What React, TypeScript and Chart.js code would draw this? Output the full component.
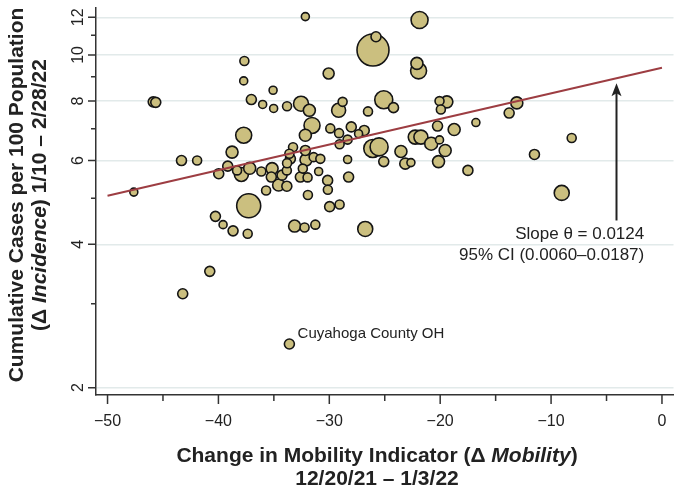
import React, { useEffect, useRef } from 'react';
import { Chart, registerables } from 'chart.js';

Chart.register(...registerables);

// ---- Data ----
const mobility = [
  -32.16, -26.06, -25.79, -37.66, -37.72, -30.06, -35.07, -45.88, -45.65, -37.03,
  -36.01, -35.02, -33.81, -32.55, -31.80, -29.16, -28.80, -26.51, -25.09, -24.21,
  -31.56, -32.16, -29.91, -29.12, -28.02, -26.85, -27.36, -28.35, -29.07, -37.72,
  -26.08, -25.51, -25.09, -38.77, -43.33, -41.92, -33.27, -33.60, -33.51, -32.16,
  -32.10, -31.41, -30.81, -28.35, -39.16, -39.97, -37.93, -37.18, -38.32, -36.13,
  -35.16, -35.23, -34.26, -33.83, -33.81, -32.61, -31.96, -32.39, -30.96, -30.15,
  -30.13, -28.26, -34.57, -33.83, -35.70, -31.93, -47.63, -37.27, -29.97, -29.07,
  -40.27, -39.58, -38.68, -37.36, -33.13, -32.23, -31.26, -26.76, -40.78, -43.22,
  -33.60, -21.86, -22.10, -21.95, -20.06, -19.40, -19.94, -13.09, -13.78, -16.78,
  -20.24, -18.74, -22.25, -21.74, -20.81, -20.06, -19.55, -20.15, -23.54, -23.15,
  -22.64, -17.50, -11.50, -8.14, -9.04,
];
const incidence = [
  12.04, 10.24, 10.92, 9.71, 8.82, 9.14, 8.43, 7.97, 7.95, 8.06,
  7.87, 7.72, 7.80, 7.90, 7.65, 7.65, 7.97, 7.61, 8.05, 7.75,
  7.11, 6.78, 7.01, 6.85, 7.06, 6.94, 6.83, 6.64, 6.49, 6.78,
  6.36, 6.41, 5.97, 6.25, 6.00, 6.00, 6.40, 6.20, 6.05, 6.30,
  6.02, 6.10, 6.05, 6.03, 5.84, 5.63, 5.61, 5.78, 5.72, 5.69,
  5.77, 5.54, 5.59, 5.72, 5.92, 5.54, 5.53, 5.77, 5.69, 5.45,
  5.21, 5.54, 5.33, 5.30, 5.19, 5.08, 5.15, 4.82, 4.80, 4.85,
  4.58, 4.40, 4.27, 4.21, 4.37, 4.34, 4.40, 4.31, 3.51, 3.15,
  2.47, 11.84, 9.60, 9.26, 8.00, 7.97, 7.68, 7.93, 7.55, 7.21,
  7.09, 6.97, 6.72, 6.72, 6.51, 6.63, 6.30, 5.97, 6.27, 5.91,
  5.94, 5.72, 6.18, 6.69, 5.13,
];
const radii = [
  4, 16, 5, 4.5, 4, 5.5, 4, 5, 5, 5,
  4, 4, 4.5, 7.5, 6, 7, 4.5, 4.5, 9, 5,
  8, 6, 4.5, 4.5, 5, 5, 4, 4.5, 4.5, 8,
  9, 9, 5, 6, 5, 4.5, 4.5, 4.5, 5, 5,
  6, 4.5, 4.5, 4, 5, 5, 7, 6, 4.5, 4.5,
  6, 5, 5, 4.5, 4.5, 5, 4.5, 4.5, 4, 5,
  4.5, 5, 6, 5, 4.5, 4.5, 4, 12, 5, 4.5,
  5, 4, 5, 4.5, 6, 4.5, 4.5, 7.5, 5, 5,
  5, 8.5, 6, 8, 4.5, 6, 4.5, 6, 5, 4,
  5, 6, 7, 7, 6.5, 4, 6, 6, 6, 5.5,
  4, 5, 5, 4.5, 7.5,
];

const fitX = [-50, 0];
const fitY = [5.06, 9.4];

const xTicks = [-50, -40, -30, -20, -10, 0];
const xMinorTicks = [-45, -35, -25, -15, -5];
const yTicks = [2, 4, 6, 8, 10, 12];
const yMinorTicks = [3, 5, 7, 9, 11];

const xTitle1: [string, boolean][] = [['Change in Mobility Indicator (Δ ', false], ['Mobility', true], [')', false]];
const xTitle2: [string, boolean][] = [['12/20/21 – 1/3/22', false]];
const yTitle1: [string, boolean][] = [['Cumulative Cases per 100 Population', false]];
const yTitle2: [string, boolean][] = [['(Δ ', false], ['Incidence', true], [') 1/10 – 2/28/22', false]];

const slopeText = 'Slope θ = 0.0124';
const ciText = '95% CI (0.0060–0.0187)';
const labelText = 'Cuyahoga County OH';
const labelPoint = { x: -32.86, y: 2.59 };
const arrow = { x: -4.1, from: 4.49, to: 8.72 };
const annot = { x: -1.6, y1: 4.19, y2: 3.79 };

const FONT = '"Liberation Sans", Arial, Helvetica, sans-serif';
const INK = '#222222';

function fmt(v: number) {
  return v < 0 ? '\u2212' + Math.abs(v) : String(v);
}

function drawRich(ctx: CanvasRenderingContext2D, parts: [string, boolean][], cx: number, cy: number, size: number) {
  const fonts = parts.map(([, it]) => `${it ? 'italic ' : ''}bold ${size}px ${FONT}`);
  const widths = parts.map(([t], i) => { ctx.font = fonts[i]; return ctx.measureText(t).width; });
  const total = widths.reduce((a, b) => a + b, 0);
  let x = cx - total / 2;
  ctx.textAlign = 'left';
  ctx.textBaseline = 'middle';
  parts.forEach(([t], i) => {
    ctx.font = fonts[i];
    ctx.fillText(t, x, cy);
    x += widths[i];
  });
}

const decor = {
  id: 'decor',
  afterDatasetsDraw(chart: any) {
    const ctx: CanvasRenderingContext2D = chart.ctx;
    const xs = chart.scales.x;
    const ys = chart.scales.y;
    ctx.save();
    // arrow
    const ax = xs.getPixelForValue(arrow.x);
    const ay1 = ys.getPixelForValue(arrow.from);
    const ay2 = ys.getPixelForValue(arrow.to);
    ctx.strokeStyle = INK;
    ctx.fillStyle = INK;
    ctx.lineWidth = 2;
    ctx.beginPath();
    ctx.moveTo(ax, ay1);
    ctx.lineTo(ax, ay2 + 8);
    ctx.stroke();
    ctx.beginPath();
    ctx.moveTo(ax, ay2);
    ctx.lineTo(ax - 5, ay2 + 13);
    ctx.lineTo(ax, ay2 + 10);
    ctx.lineTo(ax + 5, ay2 + 13);
    ctx.closePath();
    ctx.fill();
    // annotation text
    ctx.font = `17px ${FONT}`;
    ctx.textAlign = 'right';
    ctx.textBaseline = 'middle';
    const tx = xs.getPixelForValue(annot.x);
    ctx.fillText(slopeText, tx, ys.getPixelForValue(annot.y1));
    ctx.fillText(ciText, tx, ys.getPixelForValue(annot.y2));
    // point label
    ctx.font = `15px ${FONT}`;
    ctx.textAlign = 'left';
    ctx.fillText(labelText, xs.getPixelForValue(labelPoint.x), ys.getPixelForValue(labelPoint.y));
    ctx.restore();
  },
  afterDraw(chart: any) {
    const ctx: CanvasRenderingContext2D = chart.ctx;
    const xs = chart.scales.x;
    const ys = chart.scales.y;
    const area = chart.chartArea;
    ctx.save();
    ctx.strokeStyle = '#333333';
    ctx.lineWidth = 1.5;
    ctx.beginPath();
    for (const v of xTicks) {
      const p = xs.getPixelForValue(v);
      ctx.moveTo(p, area.bottom);
      ctx.lineTo(p, area.bottom + 9);
    }
    for (const v of xMinorTicks) {
      const p = xs.getPixelForValue(v);
      ctx.moveTo(p, area.bottom);
      ctx.lineTo(p, area.bottom + 6);
    }
    for (const v of yTicks) {
      const p = ys.getPixelForValue(v);
      ctx.moveTo(area.left, p);
      ctx.lineTo(area.left - 8, p);
    }
    for (const v of yMinorTicks) {
      const p = ys.getPixelForValue(v);
      ctx.moveTo(area.left, p);
      ctx.lineTo(area.left - 5, p);
    }
    ctx.stroke();

    ctx.fillStyle = INK;
    ctx.font = `16px ${FONT}`;
    ctx.textAlign = 'center';
    ctx.textBaseline = 'middle';
    for (const v of xTicks) {
      ctx.fillText(fmt(v), xs.getPixelForValue(v), area.bottom + 27);
    }
    for (const v of yTicks) {
      const p = ys.getPixelForValue(v);
      ctx.save();
      ctx.translate(area.left - 17, p);
      ctx.rotate(-Math.PI / 2);
      ctx.fillText(String(v), 0, 0);
      ctx.restore();
    }

    // axis titles
    const xc = 377;
    drawRich(ctx, xTitle1, xc, area.bottom + 61, 21);
    drawRich(ctx, xTitle2, xc, area.bottom + 84, 21);
    ctx.save();
    ctx.translate(17, 195);
    ctx.rotate(-Math.PI / 2);
    drawRich(ctx, yTitle1, 0, 0, 21);
    ctx.restore();
    ctx.save();
    ctx.translate(40, 195);
    ctx.rotate(-Math.PI / 2);
    drawRich(ctx, yTitle2, 0, 0, 21);
    ctx.restore();
    ctx.restore();
  },
};

export default function App() {
  const ref = useRef<HTMLCanvasElement | null>(null);
  useEffect(() => {
    if (!ref.current) return;
    const order = radii.map((_, i) => i).sort((a, b) => radii[b] - radii[a]);
    const bubbles = order.map((i) => ({ x: mobility[i], y: incidence[i], r: radii[i] }));
    const chart = new Chart(ref.current, {
      type: 'bubble',
      data: {
        datasets: [
          {
            type: 'line',
            data: fitX.map((x, i) => ({ x, y: fitY[i] })),
            borderColor: '#9d3d42',
            borderWidth: 2,
            pointRadius: 0,
            fill: false,
            order: 0,
          } as any,
          {
            type: 'bubble',
            data: bubbles,
            backgroundColor: '#cbbf7f',
            borderColor: '#151515',
            borderWidth: 1.6,
            hoverRadius: 0,
            order: 1,
          } as any,
        ],
      },
      options: {
        responsive: false,
        animation: false,
        devicePixelRatio: 1,
        layout: { autoPadding: false, padding: { left: 0, right: 11.5, top: 8, bottom: 0 } },
        plugins: { legend: { display: false }, tooltip: { enabled: false } },
        events: [],
        scales: {
          x: {
            type: 'linear',
            min: -51.04,
            max: 1.04,
            grid: { display: false },
            border: { display: true, color: '#333333', width: 1.5 },
            ticks: { display: false },
            afterFit: (s: any) => { s.height = 95; },
          },
          y: {
            type: 'logarithmic',
            min: 1.93,
            max: 12.55,
            afterBuildTicks: (s: any) => {
              s.ticks = [...yTicks, ...yMinorTicks].sort((a, b) => a - b).map((v) => ({ value: v }));
            },
            grid: {
              drawTicks: false,
              lineWidth: 1.5,
              color: (c: any) => (c.tick && yTicks.includes(c.tick.value) ? '#e2eaea' : 'rgba(0,0,0,0)'),
            },
            border: { display: true, color: '#333333', width: 1.5 },
            ticks: { display: false },
            afterFit: (s: any) => { s.width = 96; },
          },
        },
      } as any,
      plugins: [decor],
    });
    return () => chart.destroy();
  }, []);
  return (
    <div style={{ position: 'absolute', left: 0, top: 0, width: 685, height: 490 }}>
      <canvas ref={ref} width={685} height={490} style={{ width: 685, height: 490 }} />
    </div>
  );
}
